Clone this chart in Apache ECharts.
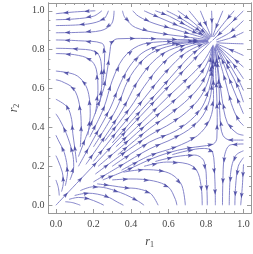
<!DOCTYPE html>
<html>
<head>
<meta charset="utf-8">
<script src="https://cdn.jsdelivr.net/npm/echarts@6/dist/echarts.min.js"></script>
<style>
html, body { margin: 0; padding: 0; background: #fff; }
#chart { width: 253px; height: 254px; }
</style>
</head>
<body>
<div id="chart"></div>
<script>
// tick labels of the frame
var majorTicks = [0, 0.2, 0.4, 0.6, 0.8, 1.0];
var minorTicks = [0.05, 0.1, 0.15, 0.25, 0.3, 0.35, 0.45, 0.5, 0.55, 0.65, 0.7, 0.75, 0.85, 0.9, 0.95];

// streamlines, [r1, r2] points in flow direction
var topLeftLines = [
	[[0.21, 1.0], [0.1, 0.994], [0.0, 0.985]],
	[[0.245, 1.0], [0.2, 0.972], [0.1, 0.958], [0.0, 0.954]],
	[[0.28, 1.0], [0.255, 0.958], [0.17, 0.932], [0.0, 0.924]],
	[[0.31, 1.0], [0.298, 0.935], [0.24, 0.898], [0.12, 0.889], [0.0, 0.887]]
];
var leftArcs = [
	[[0.25, 0.62], [0.256, 0.69], [0.26, 0.78], [0.245, 0.833], [0.12, 0.846], [0.0, 0.85]],
	[[0.235, 0.53], [0.245, 0.64], [0.24, 0.74], [0.21, 0.79], [0.1, 0.804], [0.0, 0.807]],
	[[0.21, 0.47], [0.224, 0.59], [0.215, 0.7], [0.18, 0.75], [0.1, 0.774], [0.0, 0.78]],
	[[0.17, 0.36], [0.183, 0.47], [0.175, 0.57], [0.15, 0.63], [0.1, 0.672], [0.0, 0.69]],
	[[0.13, 0.3], [0.135, 0.4], [0.125, 0.52], [0.093, 0.6], [0.03, 0.637], [0.0, 0.645]],
	[[0.11, 0.22], [0.1, 0.3], [0.09, 0.37], [0.084, 0.44], [0.06, 0.505], [0.0, 0.545]],
	[[0.075, 0.13], [0.095, 0.2], [0.088, 0.27], [0.055, 0.37], [0.02, 0.44], [0.0, 0.47]],
	[[0.05, 0.1], [0.062, 0.17], [0.045, 0.27], [0.015, 0.33], [0.0, 0.36]],
	[[0.03, 0.07], [0.04, 0.12], [0.034, 0.17], [0.012, 0.23], [0.0, 0.255]],
	[[0.018, 0.05], [0.013, 0.09], [0.0, 0.13]]
];
var upperFan = [
	[[0.12, 0.25], [0.18, 0.4], [0.22, 0.5], [0.255, 0.6], [0.275, 0.7], [0.288, 0.79], [0.298, 0.838], [0.33, 0.856], [0.45, 0.858], [0.62, 0.853], [0.81, 0.847]],
	[[0.18, 0.35], [0.255, 0.5], [0.3, 0.64], [0.358, 0.755], [0.44, 0.82], [0.55, 0.84], [0.81, 0.846]],
	[[0.12, 0.2], [0.2, 0.34], [0.29, 0.5], [0.345, 0.63], [0.405, 0.73], [0.48, 0.795], [0.6, 0.83], [0.81, 0.845]],
	[[0.2, 0.3], [0.325, 0.5], [0.383, 0.64], [0.457, 0.74], [0.53, 0.793], [0.65, 0.828], [0.81, 0.844]],
	[[0.16, 0.21], [0.26, 0.35], [0.36, 0.5], [0.425, 0.62], [0.5, 0.72], [0.58, 0.785], [0.69, 0.825], [0.81, 0.843]],
	[[0.26, 0.33], [0.395, 0.5], [0.47, 0.61], [0.55, 0.71], [0.63, 0.78], [0.72, 0.82], [0.81, 0.842]],
	[[0.2, 0.225], [0.31, 0.36], [0.43, 0.5], [0.52, 0.61], [0.6, 0.7], [0.68, 0.775], [0.75, 0.815], [0.815, 0.84]],
	[[0.3, 0.32], [0.465, 0.5], [0.56, 0.6], [0.65, 0.7], [0.73, 0.78], [0.815, 0.838]],
	[[0.0, 0.0], [0.3, 0.305], [0.6, 0.61], [0.83, 0.845]]
];
var topLines = [
	[[0.355, 1.0], [0.368, 0.965], [0.424, 0.914], [0.55, 0.885], [0.7, 0.865], [0.815, 0.85]],
	[[0.41, 1.0], [0.44, 0.972], [0.523, 0.935], [0.65, 0.9], [0.815, 0.853]],
	[[0.47, 1.0], [0.54, 0.97], [0.655, 0.922], [0.75, 0.885], [0.818, 0.855]],
	[[0.53, 1.0], [0.605, 0.972], [0.7, 0.922], [0.82, 0.857]],
	[[0.59, 1.0], [0.66, 0.965], [0.74, 0.915], [0.822, 0.86]],
	[[0.65, 1.0], [0.72, 0.95], [0.824, 0.862]],
	[[0.71, 1.0], [0.765, 0.935], [0.826, 0.864]],
	[[0.77, 1.0], [0.8, 0.93], [0.828, 0.866]],
	[[0.83, 1.0], [0.832, 0.93], [0.83, 0.867]],
	[[0.89, 1.0], [0.86, 0.93], [0.835, 0.866]]
];
var cornerLines = [
	[[1.0, 1.0], [0.92, 0.925], [0.835, 0.848]],
	[[0.95, 1.0], [0.89, 0.93], [0.84, 0.865]],
	[[1.0, 0.95], [0.93, 0.89], [0.855, 0.85]]
];
var rightLines = [
	[[1.0, 0.89], [0.93, 0.86], [0.855, 0.84]],
	[[1.0, 0.83], [0.93, 0.832], [0.86, 0.835]],
	[[1.0, 0.77], [0.93, 0.8], [0.856, 0.83]],
	[[1.0, 0.71], [0.935, 0.765], [0.855, 0.828]],
	[[1.0, 0.65], [0.95, 0.72], [0.855, 0.826]],
	[[1.0, 0.59], [0.965, 0.66], [0.915, 0.74], [0.855, 0.825]],
	[[1.0, 0.53], [0.972, 0.605], [0.922, 0.7], [0.853, 0.823]],
	[[1.0, 0.47], [0.97, 0.54], [0.922, 0.655], [0.885, 0.75], [0.852, 0.82]],
	[[1.0, 0.41], [0.972, 0.44], [0.935, 0.523], [0.9, 0.65], [0.85, 0.818]],
	[[1.0, 0.36], [0.965, 0.37], [0.914, 0.424], [0.885, 0.55], [0.865, 0.7], [0.848, 0.815]],
	[[1.0, 0.335], [0.93, 0.335], [0.89, 0.36], [0.875, 0.45], [0.87, 0.6], [0.86, 0.72], [0.848, 0.81]]
];
var lowerFan = [
	[[0.25, 0.13], [0.4, 0.19], [0.5, 0.235], [0.6, 0.27], [0.7, 0.293], [0.79, 0.305], [0.84, 0.315], [0.858, 0.345], [0.86, 0.45], [0.855, 0.62], [0.845, 0.81]],
	[[0.35, 0.18], [0.5, 0.255], [0.64, 0.3], [0.755, 0.358], [0.82, 0.44], [0.84, 0.55], [0.838, 0.825]],
	[[0.2, 0.12], [0.34, 0.2], [0.5, 0.29], [0.63, 0.345], [0.73, 0.405], [0.795, 0.48], [0.83, 0.6], [0.837, 0.82]],
	[[0.3, 0.2], [0.5, 0.325], [0.64, 0.383], [0.74, 0.457], [0.793, 0.53], [0.828, 0.65], [0.836, 0.82]],
	[[0.21, 0.16], [0.35, 0.26], [0.5, 0.36], [0.62, 0.425], [0.72, 0.5], [0.785, 0.58], [0.825, 0.69], [0.835, 0.818]],
	[[0.33, 0.26], [0.5, 0.395], [0.61, 0.47], [0.71, 0.55], [0.78, 0.63], [0.82, 0.72], [0.834, 0.815]],
	[[0.225, 0.2], [0.36, 0.31], [0.5, 0.43], [0.61, 0.52], [0.7, 0.6], [0.775, 0.68], [0.815, 0.75], [0.833, 0.815]],
	[[0.32, 0.3], [0.5, 0.465], [0.6, 0.56], [0.7, 0.65], [0.78, 0.73], [0.832, 0.812]]
];
var bottomArcs = [
	[[0.62, 0.26], [0.7, 0.28], [0.785, 0.292], [0.835, 0.275], [0.847, 0.14], [0.85, 0.0]],
	[[0.53, 0.225], [0.64, 0.25], [0.74, 0.258], [0.79, 0.225], [0.804, 0.1], [0.807, 0.0]],
	[[0.47, 0.2], [0.59, 0.222], [0.7, 0.213], [0.75, 0.18], [0.774, 0.1], [0.78, 0.0]],
	[[0.36, 0.17], [0.47, 0.183], [0.57, 0.175], [0.63, 0.15], [0.672, 0.1], [0.69, 0.0]],
	[[0.3, 0.13], [0.4, 0.135], [0.52, 0.125], [0.6, 0.093], [0.637, 0.03], [0.645, 0.0]],
	[[0.22, 0.11], [0.3, 0.1], [0.37, 0.09], [0.44, 0.084], [0.505, 0.06], [0.545, 0.0]],
	[[0.13, 0.075], [0.2, 0.095], [0.27, 0.088], [0.37, 0.055], [0.44, 0.02], [0.47, 0.0]],
	[[0.1, 0.05], [0.17, 0.062], [0.27, 0.045], [0.33, 0.015], [0.36, 0.0]],
	[[0.07, 0.03], [0.12, 0.04], [0.17, 0.034], [0.23, 0.012], [0.255, 0.0]],
	[[0.05, 0.018], [0.09, 0.013], [0.13, 0.0]]
];
var bottomRightLines = [
	[[1.0, 0.21], [0.994, 0.1], [0.985, 0.0]],
	[[1.0, 0.245], [0.972, 0.2], [0.958, 0.1], [0.954, 0.0]],
	[[1.0, 0.28], [0.958, 0.255], [0.932, 0.17], [0.924, 0.0]],
	[[1.0, 0.315], [0.93, 0.31], [0.898, 0.25], [0.89, 0.12], [0.888, 0.0]]
];

var lineColor = '#7777c4';
var arrowColor = '#3d3d9c';
var frameColor = '#999';
var textColor = '#444';
var serif = "'Times New Roman', 'Liberation Serif', serif";

var allLines = [].concat(topLeftLines, leftArcs, upperFan, topLines, cornerLines,
	rightLines, lowerFan, bottomArcs, bottomRightLines);

function makeAxis(dim, pos, ticks, len, labels, name) {
	var ax = {
		type: 'value',
		min: -0.04,
		max: 1.04,
		position: pos,
		axisLine: { show: true, onZero: false, lineStyle: { color: frameColor, width: 1 } },
		axisTick: { show: true, inside: true, length: len, customValues: ticks, lineStyle: { color: frameColor, width: 1 } },
		axisLabel: {
			show: labels,
			customValues: ticks,
			color: textColor,
			fontFamily: serif,
			fontSize: 10,
			margin: dim == 'x' ? 6 : 4,
			formatter: function(v) { return v.toFixed(1); }
		},
		splitLine: { show: false }
	};
	if (name) {
		ax.name = '{i|r}{s|' + name + '}';
		ax.nameLocation = 'middle';
		ax.nameGap = dim == 'x' ? 22 : 24;
		ax.nameRotate = dim == 'x' ? 0 : 90;
		ax.nameTextStyle = {
			rich: {
				i: { fontFamily: serif, fontStyle: 'italic', fontSize: 12, color: textColor },
				s: { fontFamily: serif, fontSize: 8, color: textColor, padding: [6, 0, 0, 0] }
			}
		};
	}
	return ax;
}

var chart = echarts.init(document.getElementById('chart'));

var series = [];
allLines.forEach(function(pts) {
	series.push({
		type: 'line',
		data: pts,
		smooth: 0.35,
		symbol: 'none',
		silent: true,
		lineStyle: { color: lineColor, width: 0.9 },
		z: 2
	});
});

chart.setOption({
	animation: false,
	textStyle: { fontFamily: serif },
	grid: { left: 33, right: 2, top: 3, bottom: 35 },
	xAxis: [
		makeAxis('x', 'bottom', majorTicks, 4, true, '1'),
		makeAxis('x', 'bottom', minorTicks, 2, false),
		makeAxis('x', 'top', majorTicks, 4, false),
		makeAxis('x', 'top', minorTicks, 2, false)
	],
	yAxis: [
		makeAxis('y', 'left', majorTicks, 4, true, '2'),
		makeAxis('y', 'left', minorTicks, 2, false),
		makeAxis('y', 'right', majorTicks, 4, false),
		makeAxis('y', 'right', minorTicks, 2, false)
	],
	series: series
});

// arrow heads spaced along each line, turned along the line, none right at the end
var arrows = [];
var step = 21;
allLines.forEach(function(pts, k) {
	var px = pts.map(function(p) { return chart.convertToPixel({ xAxisIndex: 0, yAxisIndex: 0 }, p); });
	var total = 0;
	for (var j = 0; j < px.length - 1; j++) {
		total += Math.hypot(px[j + 1][0] - px[j][0], px[j + 1][1] - px[j][1]);
	}
	var next = step * (0.4 + ((k * 0.618) % 1) * 0.5);
	var acc = 0;
	for (var i = 0; i < px.length - 1; i++) {
		var dx = px[i + 1][0] - px[i][0], dy = px[i + 1][1] - px[i][1];
		var len = Math.hypot(dx, dy);
		var ang = Math.atan2(-dy, dx) * 180 / Math.PI;
		while (acc + len >= next && total - next > 9) {
			var t = (next - acc) / len;
			arrows.push({
				value: [pts[i][0] + t * (pts[i + 1][0] - pts[i][0]), pts[i][1] + t * (pts[i + 1][1] - pts[i][1])],
				symbolRotate: ang - 90
			});
			next += step;
		}
		acc += len;
	}
});

series.push({
	type: 'scatter',
	data: arrows,
	symbol: 'path://M0,-6L3,3L0,1.5L-3,3Z',
	symbolSize: [4, 5.5],
	silent: true,
	itemStyle: { color: arrowColor },
	z: 3
});
chart.setOption({ series: series });
</script>
</body>
</html>
